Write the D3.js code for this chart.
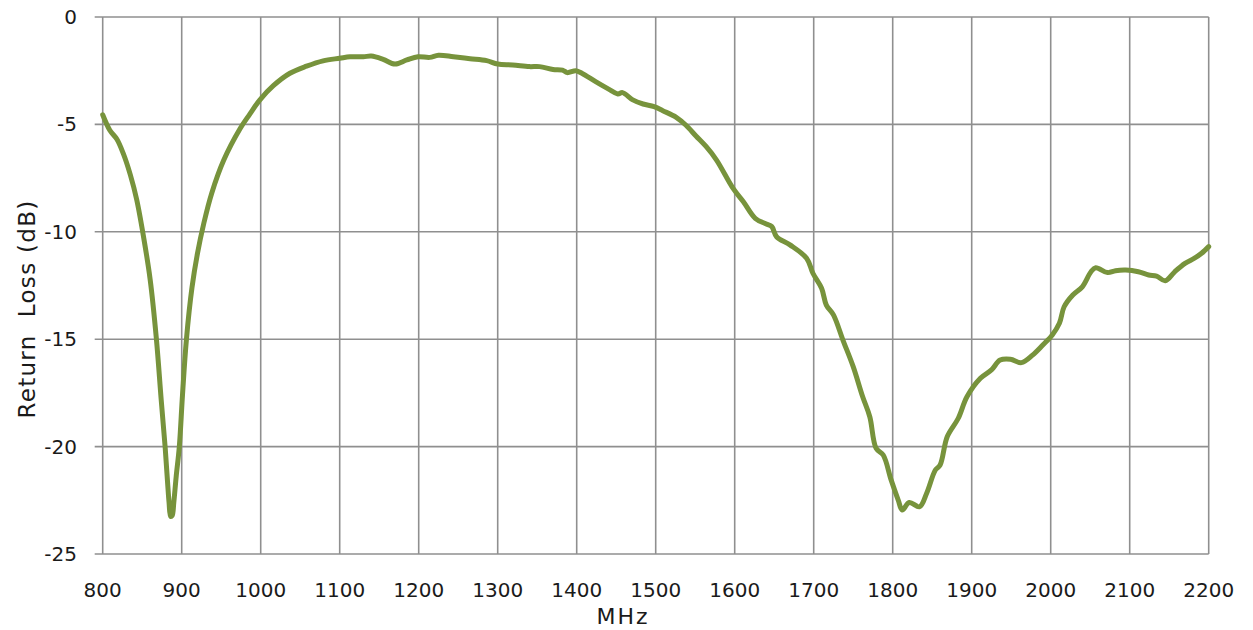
<!DOCTYPE html>
<html>
<head>
<meta charset="utf-8">
<script src="https://cdn.jsdelivr.net/npm/d3@7"></script>
<style>
  body { margin: 0; background: #fff; }
  svg text { font-family: "DejaVu Sans", Verdana, sans-serif; fill: #1a1a1a; }
</style>
</head>
<body>
<svg width="1253" height="630"></svg>
<script>
// frequency (MHz) and return loss (dB)
var freq = [800, 809, 818, 826, 835, 843, 852, 860, 868, 874, 879, 882, 884, 886, 888, 890, 893, 897, 901, 906, 913, 920, 928, 938, 953, 974, 986, 999, 1016, 1037, 1058, 1079, 1100, 1113, 1130, 1140, 1155, 1170, 1185, 1199, 1214, 1225, 1244, 1265, 1286, 1300, 1319, 1340, 1353, 1370, 1382, 1388, 1399, 1407, 1424, 1441, 1452, 1458, 1471, 1484, 1498, 1509, 1526, 1538, 1551, 1564, 1577, 1598, 1611, 1626, 1640, 1647, 1653, 1670, 1691, 1699, 1710, 1716, 1725, 1737, 1750, 1762, 1771, 1779, 1788, 1798, 1807, 1812, 1821, 1834, 1843, 1854, 1860, 1869, 1883, 1894, 1911, 1925, 1936, 1949, 1963, 1977, 1990, 2002, 2011, 2017, 2028, 2040, 2051, 2057, 2072, 2082, 2095, 2111, 2124, 2134, 2145, 2157, 2170, 2182, 2191, 2200];
var loss = [-4.55, -5.27, -5.69, -6.35, -7.35, -8.5, -10.3, -12.2, -15.0, -17.8, -20.0, -21.6, -22.6, -23.25, -23.2, -22.6, -21.4, -20.0, -17.6, -15.0, -12.6, -11.0, -9.6, -8.2, -6.68, -5.19, -4.53, -3.86, -3.2, -2.62, -2.29, -2.04, -1.92, -1.85, -1.85, -1.82, -1.97, -2.19, -2.0, -1.85, -1.88, -1.78, -1.85, -1.94, -2.03, -2.19, -2.23, -2.31, -2.31, -2.44, -2.47, -2.59, -2.5, -2.63, -3.01, -3.37, -3.58, -3.52, -3.86, -4.05, -4.17, -4.36, -4.67, -5.03, -5.54, -6.04, -6.66, -7.98, -8.6, -9.37, -9.64, -9.76, -10.23, -10.61, -11.23, -11.93, -12.63, -13.41, -13.87, -15.04, -16.28, -17.68, -18.61, -20.08, -20.39, -21.55, -22.49, -22.95, -22.6, -22.8, -22.17, -21.09, -20.86, -19.54, -18.68, -17.68, -16.82, -16.43, -15.97, -15.93, -16.09, -15.74, -15.27, -14.8, -14.26, -13.49, -12.94, -12.56, -11.86, -11.67, -11.9, -11.81, -11.78, -11.86, -12.01, -12.06, -12.28, -11.86, -11.47, -11.23, -11.0, -10.69];
var xTicks = [800, 900, 1000, 1100, 1200, 1300, 1400, 1500, 1600, 1700, 1800, 1900, 2000, 2100, 2200];
var yTicks = [0, -5, -10, -15, -20, -25];

var svg = d3.select("svg");
// note: "top" is taken by window.top, so plot edges get their own names
var plotLeft = 102.7, plotRight = 1208.7, plotTop = 17, plotBottom = 554;

var x = d3.scaleLinear().domain([800, 2200]).range([plotLeft, plotRight]);
var y = d3.scaleLinear().domain([-25, 0]).range([plotBottom, plotTop]);

var gridColor = "#8f8f8f";

// vertical gridlines
svg.append("g")
	.selectAll("line")
	.data(xTicks)
	.enter()
	.append("line")
	.attr("x1", function (d) { return x(d); })
	.attr("x2", function (d) { return x(d); })
	.attr("y1", plotTop)
	.attr("y2", plotBottom)
	.attr("stroke", gridColor)
	.attr("stroke-width", 1.6);

// horizontal gridlines, with little outward ticks on the left
svg.append("g")
	.selectAll("line")
	.data(yTicks)
	.enter()
	.append("line")
	.attr("x1", plotLeft - 8)
	.attr("x2", plotRight)
	.attr("y1", function (d) { return y(d); })
	.attr("y2", function (d) { return y(d); })
	.attr("stroke", gridColor)
	.attr("stroke-width", 1.6);

// tick labels
svg.append("g")
	.selectAll("text")
	.data(xTicks)
	.enter()
	.append("text")
	.attr("x", function (d) { return x(d); })
	.attr("y", 597)
	.attr("text-anchor", "middle")
	.attr("font-size", 20)
	.text(function (d) { return d; });

svg.append("g")
	.selectAll("text")
	.data(yTicks)
	.enter()
	.append("text")
	.attr("x", 77)
	.attr("y", function (d) { return y(d) + 7; })
	.attr("text-anchor", "end")
	.attr("font-size", 20)
	.text(function (d) { return d; });

// axis titles
svg.append("text")
	.attr("x", 623)
	.attr("y", 624)
	.attr("text-anchor", "middle")
	.attr("font-size", 22)
	.attr("letter-spacing", 2)
	.text("MHz");

svg.append("text")
	.attr("transform", "translate(35,309) rotate(-90)")
	.attr("text-anchor", "middle")
	.attr("font-size", 23)
	.attr("letter-spacing", 1.3)
	.attr("xml:space", "preserve")
	.text("Return  Loss (dB)");

// the trace
var line = d3.line()
	.x(function (d, i) { return x(freq[i]); })
	.y(function (d) { return y(d); })
	.curve(d3.curveCatmullRom);

svg.append("path")
	.datum(loss)
	.attr("d", line)
	.attr("fill", "none")
	.attr("stroke", "#77933c")
	.attr("stroke-width", 5)
	.attr("stroke-linejoin", "round")
	.attr("stroke-linecap", "round");
</script>
</body>
</html>
